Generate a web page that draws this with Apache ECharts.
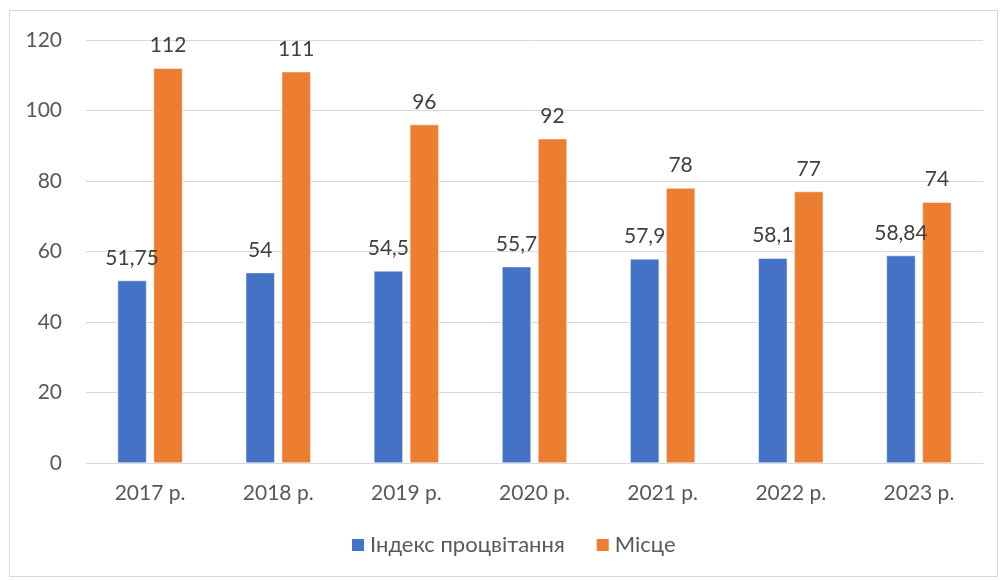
<!DOCTYPE html>
<html>
<head>
<meta charset="utf-8">
<script src="https://cdn.jsdelivr.net/npm/echarts@6/dist/echarts.min.js"></script>
<style>
  html, body { margin: 0; padding: 0; background: #fff; }
  #frame { position: absolute; left: 9px; top: 10px; width: 989px; height: 567px; border: 1px solid #d9d9d9; box-sizing: border-box; }
  #chart { position: absolute; left: 0; top: 0; width: 1001px; height: 580px; }
</style>
</head>
<body>
<div id="frame"></div>
<div id="chart"></div>
<script>
const years = ["2017 р.", "2018 р.", "2019 р.", "2020 р.", "2021 р.", "2022 р.", "2023 р."];
const prosperityIndex = [51.75, 54, 54.5, 55.7, 57.9, 58.1, 58.84];
const rank = [112, 111, 96, 92, 78, 77, 74];
const seriesNames = ["Індекс процвітання", "Місце"];

const textColor = "#595959";
const font = "Lato";

const chart = echarts.init(document.getElementById("chart"));

const label = {
  show: true,
  position: "top",
  distance: 12,
  color: "#404040",
  fontFamily: font,
  fontSize: 21,
  formatter: p => String(p.value).replace(".", ",")
};

chart.setOption({
  animation: false,
  textStyle: { fontFamily: font },
  grid: { left: 86, right: 18, top: 40, bottom: 117 },
  legend: {
    bottom: 19,
    left: 345,
    itemWidth: 14,
    itemHeight: 14,
    itemGap: 30,
    icon: "rect",
    textStyle: { color: textColor, fontSize: 22, fontFamily: font },
    data: seriesNames
  },
  xAxis: {
    type: "category",
    data: years,
    axisTick: { show: false },
    axisLine: { lineStyle: { color: "#d9d9d9", width: 1 } },
    axisLabel: { color: textColor, fontSize: 21, fontFamily: font, margin: 20 }
  },
  yAxis: {
    type: "value",
    min: 0,
    max: 120,
    interval: 20,
    axisLine: { show: false },
    axisTick: { show: false },
    axisLabel: { color: textColor, fontSize: 21, fontFamily: font, margin: 24 },
    splitLine: { lineStyle: { color: "#d9d9d9", width: 1 } }
  },
  series: [
    {
      name: seriesNames[0],
      type: "bar",
      data: prosperityIndex,
      barWidth: 29,
      barGap: "24%",
      itemStyle: { color: "#4472C4", borderColor: "#fff", borderWidth: 0.5 },
      label: label
    },
    {
      name: seriesNames[1],
      type: "bar",
      data: rank,
      barWidth: 29,
      itemStyle: { color: "#ED7D31", borderColor: "#fff", borderWidth: 0.5 },
      label: label
    }
  ]
});
</script>
</body>
</html>
